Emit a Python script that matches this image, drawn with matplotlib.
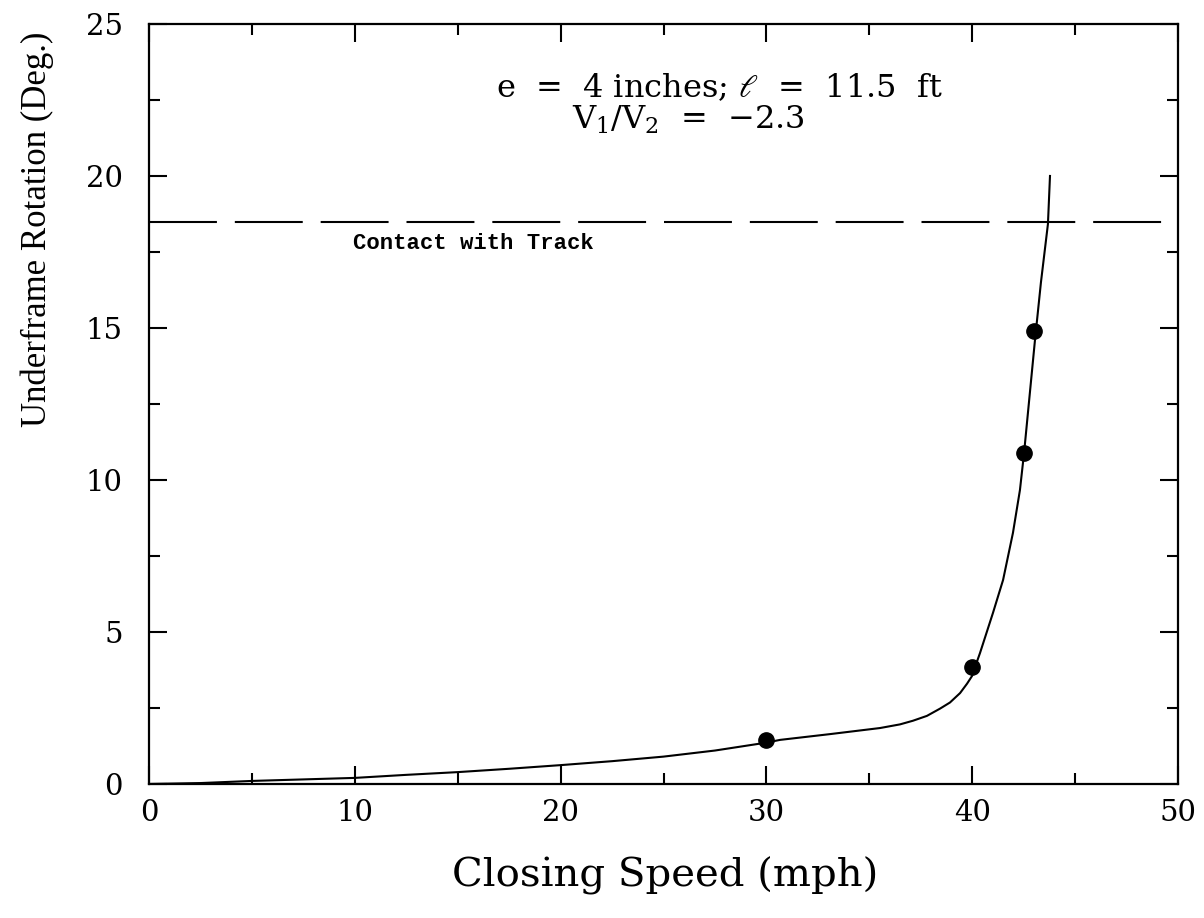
import matplotlib
matplotlib.use("Agg")
import matplotlib.pyplot as plt
from matplotlib.ticker import MultipleLocator

# Data
curve_speed = [0, 2.5, 5, 7.5, 10, 12.5, 15, 17.5, 20, 22.5, 25, 27.5, 30, 30.66, 33.09,
               35.52, 36.49, 37.12, 37.80, 38.44, 38.92, 39.41, 39.75, 39.99, 40.14, 40.38,
               41.01, 41.50, 41.98, 42.32, 42.52, 43.05, 43.34, 43.68, 43.78]
curve_rot = [0, 0.03, 0.1, 0.15, 0.2, 0.3, 0.39, 0.5, 0.62, 0.75, 0.9, 1.1, 1.36, 1.45, 1.64,
             1.84, 1.96, 2.08, 2.24, 2.48, 2.68, 2.99, 3.30, 3.55, 3.85, 4.31,
             5.63, 6.71, 8.26, 9.67, 10.89, 14.6, 16.5, 18.42, 20.0]
point_speed = [30.0, 40.0, 42.5, 43.0]
point_rot = [1.45, 3.85, 10.9, 14.9]
contact_level = 18.5

x_ticks = [0, 10, 20, 30, 40, 50]
y_ticks = [0, 5, 10, 15, 20, 25]

plt.rcParams['font.family'] = ['DejaVu Serif']
plt.rcParams['mathtext.fontset'] = 'dejavuserif'

fig = plt.figure(figsize=(12.04, 9.18), dpi=100)
ax = fig.add_axes([0.1238, 0.1460, 0.8546, 0.8279])

ax.plot(curve_speed, curve_rot, color='black', lw=1.5)
ax.plot(point_speed, point_rot, 'o', color='black', ms=11)
ax.axhline(contact_level, color='black', lw=1.5, dashes=(32.6, 8.6))

ax.text(9.9, 17.6, 'Contact with Track', family='Liberation Mono', fontweight='bold',
        fontsize=16, ha='left', va='baseline')
ax.text(27.7, 22.58, r'e  =  4 inches; $\ell$  =  11.5  ft', fontsize=23, ha='center', va='baseline')
ax.text(26.2, 21.55, r'$\mathrm{V_1/V_2}$  =  −2.3', fontsize=23, ha='center', va='baseline')

ax.set_xlim(0, 50)
ax.set_ylim(0, 25)
ax.set_xticks(x_ticks)
ax.set_yticks(y_ticks)
ax.xaxis.set_minor_locator(MultipleLocator(5))
ax.yaxis.set_minor_locator(MultipleLocator(2.5))
ax.tick_params(which='both', direction='in', top=True, right=True, width=1.5, labelsize=21)
ax.tick_params(which='major', length=13)
ax.tick_params(which='minor', length=8)
ax.tick_params(axis='y', pad=19)
ax.tick_params(axis='x', pad=11)
for s in ax.spines.values():
    s.set_linewidth(1.6)

ax.set_xlabel('Closing Speed (mph)', fontsize=29)
ax.set_ylabel('Underframe Rotation (Deg.)', fontsize=25, family='Liberation Serif')
ax.xaxis.set_label_coords(0.502, -0.095)
ax.yaxis.set_label_coords(-0.092, 0.73)

fig.savefig('out.png', dpi=100)
